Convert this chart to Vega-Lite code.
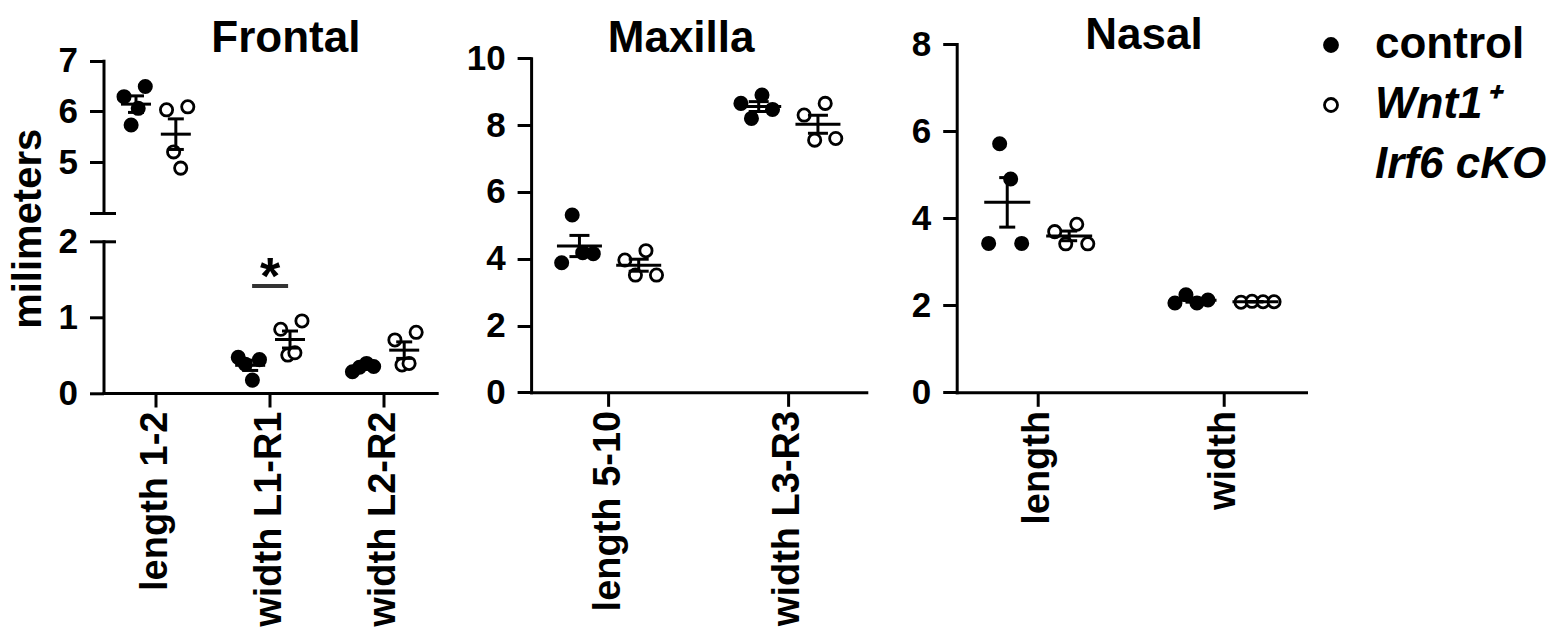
{
  "$schema": "https://vega.github.io/schema/vega-lite/v6.json",
  "padding": {"left": 8.5, "top": 14, "right": 5, "bottom": 5},
  "datasets": {
    "pts": [
      {"panel": "Frontal", "measure": "length 1-2", "group": "control", "id": "C1", "value": 6.29},
      {"panel": "Frontal", "measure": "length 1-2", "group": "control", "id": "C2", "value": 5.73},
      {"panel": "Frontal", "measure": "length 1-2", "group": "control", "id": "C3", "value": 6.06},
      {"panel": "Frontal", "measure": "length 1-2", "group": "control", "id": "C4", "value": 6.49},
      {"panel": "Frontal", "measure": "length 1-2", "group": "Wnt1+ Irf6 cKO", "id": "K1", "value": 6.03},
      {"panel": "Frontal", "measure": "length 1-2", "group": "Wnt1+ Irf6 cKO", "id": "K2", "value": 5.2},
      {"panel": "Frontal", "measure": "length 1-2", "group": "Wnt1+ Irf6 cKO", "id": "K3", "value": 4.88},
      {"panel": "Frontal", "measure": "length 1-2", "group": "Wnt1+ Irf6 cKO", "id": "K4", "value": 6.09},
      {"panel": "Frontal", "measure": "width L1-R1", "group": "control", "id": "C1", "value": 0.47},
      {"panel": "Frontal", "measure": "width L1-R1", "group": "control", "id": "C2", "value": 0.38},
      {"panel": "Frontal", "measure": "width L1-R1", "group": "control", "id": "C3", "value": 0.17},
      {"panel": "Frontal", "measure": "width L1-R1", "group": "control", "id": "C4", "value": 0.44},
      {"panel": "Frontal", "measure": "width L1-R1", "group": "Wnt1+ Irf6 cKO", "id": "K1", "value": 0.84},
      {"panel": "Frontal", "measure": "width L1-R1", "group": "Wnt1+ Irf6 cKO", "id": "K2", "value": 0.5},
      {"panel": "Frontal", "measure": "width L1-R1", "group": "Wnt1+ Irf6 cKO", "id": "K3", "value": 0.53},
      {"panel": "Frontal", "measure": "width L1-R1", "group": "Wnt1+ Irf6 cKO", "id": "K4", "value": 0.95},
      {"panel": "Frontal", "measure": "width L2-R2", "group": "control", "id": "C1", "value": 0.28},
      {"panel": "Frontal", "measure": "width L2-R2", "group": "control", "id": "C2", "value": 0.34},
      {"panel": "Frontal", "measure": "width L2-R2", "group": "control", "id": "C3", "value": 0.39},
      {"panel": "Frontal", "measure": "width L2-R2", "group": "control", "id": "C4", "value": 0.35},
      {"panel": "Frontal", "measure": "width L2-R2", "group": "Wnt1+ Irf6 cKO", "id": "K1", "value": 0.7},
      {"panel": "Frontal", "measure": "width L2-R2", "group": "Wnt1+ Irf6 cKO", "id": "K2", "value": 0.37},
      {"panel": "Frontal", "measure": "width L2-R2", "group": "Wnt1+ Irf6 cKO", "id": "K3", "value": 0.39},
      {"panel": "Frontal", "measure": "width L2-R2", "group": "Wnt1+ Irf6 cKO", "id": "K4", "value": 0.8},
      {"panel": "Maxilla", "measure": "length 5-10", "group": "control", "id": "C1", "value": 3.88},
      {"panel": "Maxilla", "measure": "length 5-10", "group": "control", "id": "C2", "value": 5.31},
      {"panel": "Maxilla", "measure": "length 5-10", "group": "control", "id": "C3", "value": 4.18},
      {"panel": "Maxilla", "measure": "length 5-10", "group": "control", "id": "C4", "value": 4.15},
      {"panel": "Maxilla", "measure": "length 5-10", "group": "Wnt1+ Irf6 cKO", "id": "K1", "value": 3.96},
      {"panel": "Maxilla", "measure": "length 5-10", "group": "Wnt1+ Irf6 cKO", "id": "K2", "value": 3.51},
      {"panel": "Maxilla", "measure": "length 5-10", "group": "Wnt1+ Irf6 cKO", "id": "K3", "value": 4.24},
      {"panel": "Maxilla", "measure": "length 5-10", "group": "Wnt1+ Irf6 cKO", "id": "K4", "value": 3.51},
      {"panel": "Maxilla", "measure": "width L3-R3", "group": "control", "id": "C1", "value": 8.65},
      {"panel": "Maxilla", "measure": "width L3-R3", "group": "control", "id": "C2", "value": 8.2},
      {"panel": "Maxilla", "measure": "width L3-R3", "group": "control", "id": "C3", "value": 8.9},
      {"panel": "Maxilla", "measure": "width L3-R3", "group": "control", "id": "C4", "value": 8.47},
      {"panel": "Maxilla", "measure": "width L3-R3", "group": "Wnt1+ Irf6 cKO", "id": "K1", "value": 8.3},
      {"panel": "Maxilla", "measure": "width L3-R3", "group": "Wnt1+ Irf6 cKO", "id": "K2", "value": 7.55},
      {"panel": "Maxilla", "measure": "width L3-R3", "group": "Wnt1+ Irf6 cKO", "id": "K3", "value": 8.65},
      {"panel": "Maxilla", "measure": "width L3-R3", "group": "Wnt1+ Irf6 cKO", "id": "K4", "value": 7.6},
      {"panel": "Nasal", "measure": "length", "group": "control", "id": "C1", "value": 3.42},
      {"panel": "Nasal", "measure": "length", "group": "control", "id": "C2", "value": 5.71},
      {"panel": "Nasal", "measure": "length", "group": "control", "id": "C3", "value": 4.9},
      {"panel": "Nasal", "measure": "length", "group": "control", "id": "C4", "value": 3.42},
      {"panel": "Nasal", "measure": "length", "group": "Wnt1+ Irf6 cKO", "id": "K1", "value": 3.69},
      {"panel": "Nasal", "measure": "length", "group": "Wnt1+ Irf6 cKO", "id": "K2", "value": 3.41},
      {"panel": "Nasal", "measure": "length", "group": "Wnt1+ Irf6 cKO", "id": "K3", "value": 3.86},
      {"panel": "Nasal", "measure": "length", "group": "Wnt1+ Irf6 cKO", "id": "K4", "value": 3.41},
      {"panel": "Nasal", "measure": "width", "group": "control", "id": "C1", "value": 2.05},
      {"panel": "Nasal", "measure": "width", "group": "control", "id": "C2", "value": 2.24},
      {"panel": "Nasal", "measure": "width", "group": "control", "id": "C3", "value": 2.05},
      {"panel": "Nasal", "measure": "width", "group": "control", "id": "C4", "value": 2.12},
      {"panel": "Nasal", "measure": "width", "group": "Wnt1+ Irf6 cKO", "id": "K1", "value": 2.07},
      {"panel": "Nasal", "measure": "width", "group": "Wnt1+ Irf6 cKO", "id": "K2", "value": 2.09},
      {"panel": "Nasal", "measure": "width", "group": "Wnt1+ Irf6 cKO", "id": "K3", "value": 2.08},
      {"panel": "Nasal", "measure": "width", "group": "Wnt1+ Irf6 cKO", "id": "K4", "value": 2.08}
    ],
    "sig": [
      {"measure": "width L1-R1", "level": 1.41, "label": "*"}
    ]
  },
  "hconcat": [
    {
      "spacing": 28.3,
      "bounds": "flush",
      "vconcat": [
        {
          "title": {"text": "Frontal", "dx": 15.7, "offset": -17.6},
          "width": 333.2,
          "height": 168.7,
          "resolve": {"scale": {"xOffset": "independent"}, "axis": {"y": "independent"}},
          "layer": [
            {
              "data": {"name": "pts"},
              "transform": [{"filter": "datum.panel === 'Frontal' && datum.measure === 'length 1-2'"}],
              "mark": {"type": "circle", "size": 150, "strokeWidth": 2.8, "opacity": 1},
              "encoding": {
                "x": {"field": "measure", "type": "nominal", "scale": {"domain": ["length 1-2", "width L1-R1", "width L2-R2"], "paddingInner": 0.082, "paddingOuter": 0}, "axis": null},
                "xOffset": {"field": "id", "type": "nominal", "scale": {"domain": ["a1", "a2", "C1", "C2", "C3", "C4", "g1", "g2", "K1", "K2", "K3", "K4", "b1", "b2"], "paddingInner": 0, "paddingOuter": 0.9}},
                "y": {"field": "value", "type": "quantitative", "scale": {"domain": [4, 7], "range": [168.7, 16.7], "nice": false, "zero": false}, "axis": {"values": [4, 5, 6, 7], "labelExpr": "datum.value == 4 ? '' : datum.label", "title": null, "labelFontSize": 35, "labelPadding": 12, "tickSize": 14}},
                "fill": {"field": "group", "type": "nominal", "scale": {"domain": ["control", "Wnt1+ Irf6 cKO", "line2"], "range": ["black", "white", "rgba(0,0,0,0)"]}, "legend": {"title": null, "orient": "none", "legendX": 1205.5, "legendY": -21, "values": ["control", "Wnt1+ Irf6 cKO", "line2"], "labelExpr": "datum.value == 'control' ? 'control' : datum.value == 'line2' ? 'Irf6 cKO' : 'Wnt1⁺'", "labelFontStyle": {"expr": "datum.value == 'control' ? 'normal' : 'italic'"}}},
                "stroke": {"field": "group", "type": "nominal", "scale": {"domain": ["control", "Wnt1+ Irf6 cKO", "line2"], "range": ["black", "black", "rgba(0,0,0,0)"]}, "legend": {"title": null, "orient": "none", "legendX": 1205.5, "legendY": -21, "values": ["control", "Wnt1+ Irf6 cKO", "line2"], "labelExpr": "datum.value == 'control' ? 'control' : datum.value == 'line2' ? 'Irf6 cKO' : 'Wnt1⁺'", "labelFontStyle": {"expr": "datum.value == 'control' ? 'normal' : 'italic'"}}}
              }
            },
            {
              "data": {"name": "pts"},
              "transform": [{"filter": "datum.panel === 'Frontal' && datum.measure === 'length 1-2'"}],
              "mark": {"type": "errorbar", "extent": "stderr", "color": "black", "thickness": 3, "ticks": {"size": 16, "thickness": 3, "color": "black", "opacity": 1}, "rule": {"strokeWidth": 3, "color": "black"}},
              "encoding": {
                "x": {"field": "measure", "type": "nominal", "axis": null},
                "xOffset": {"field": "group", "type": "nominal", "scale": {"domain": ["control", "Wnt1+ Irf6 cKO"], "paddingInner": 0, "paddingOuter": 0.316}},
                "y": {"field": "value", "type": "quantitative", "axis": null}
              }
            },
            {
              "data": {"name": "pts"},
              "transform": [{"filter": "datum.panel === 'Frontal' && datum.measure === 'length 1-2'"}],
              "mark": {"type": "tick", "size": 30, "thickness": 3, "color": "black", "opacity": 1},
              "encoding": {
                "x": {"field": "measure", "type": "nominal", "axis": null},
                "xOffset": {"field": "group", "type": "nominal", "scale": {"domain": ["control", "Wnt1+ Irf6 cKO"], "paddingInner": 0, "paddingOuter": 0.316}},
                "y": {"aggregate": "mean", "field": "value", "type": "quantitative", "axis": {"orient": "left", "values": [4], "tickSize": 12, "offset": -12, "labels": false, "domain": false, "title": null}}
              }
            }
          ]
        },
        {
          "width": 333.2,
          "height": 151.7,
          "resolve": {"scale": {"xOffset": "independent"}, "axis": {"y": "independent"}},
          "layer": [
            {
              "data": {"name": "pts"},
              "transform": [{"filter": "datum.panel === 'Frontal' && datum.measure !== 'length 1-2'"}],
              "mark": {"type": "circle", "size": 150, "strokeWidth": 2.8, "opacity": 1},
              "encoding": {
                "x": {"field": "measure", "type": "nominal", "scale": {"domain": ["length 1-2", "width L1-R1", "width L2-R2"], "paddingInner": 0.082, "paddingOuter": 0}, "axis": {"title": null, "labelAngle": 270, "labelFontSize": 38, "labelPadding": 4, "labelLimit": 400, "tickSize": 14}},
                "xOffset": {"field": "id", "type": "nominal", "scale": {"domain": ["a1", "a2", "C1", "C2", "C3", "C4", "g1", "g2", "K1", "K2", "K3", "K4", "b1", "b2"], "paddingInner": 0, "paddingOuter": 0.9}},
                "y": {"field": "value", "type": "quantitative", "scale": {"domain": [0, 2], "nice": false}, "axis": {"values": [0, 1, 2], "labelExpr": "'' + datum.value", "labelFontSize": 35, "labelPadding": 12, "tickSize": 14, "title": "milimeters", "titleX": -74.8, "titleY": -13, "titleAngle": 270, "titleAlign": "center", "titleBaseline": "middle", "titleFontSize": 40}},
                "fill": {"field": "group", "type": "nominal", "scale": {"domain": ["control", "Wnt1+ Irf6 cKO", "line2"], "range": ["black", "white", "rgba(0,0,0,0)"]}, "legend": {"title": null, "orient": "none", "legendX": 1205.5, "legendY": -21, "values": ["control", "Wnt1+ Irf6 cKO", "line2"], "labelExpr": "datum.value == 'control' ? 'control' : datum.value == 'line2' ? 'Irf6 cKO' : 'Wnt1⁺'", "labelFontStyle": {"expr": "datum.value == 'control' ? 'normal' : 'italic'"}}},
                "stroke": {"field": "group", "type": "nominal", "scale": {"domain": ["control", "Wnt1+ Irf6 cKO", "line2"], "range": ["black", "black", "rgba(0,0,0,0)"]}, "legend": {"title": null, "orient": "none", "legendX": 1205.5, "legendY": -21, "values": ["control", "Wnt1+ Irf6 cKO", "line2"], "labelExpr": "datum.value == 'control' ? 'control' : datum.value == 'line2' ? 'Irf6 cKO' : 'Wnt1⁺'", "labelFontStyle": {"expr": "datum.value == 'control' ? 'normal' : 'italic'"}}}
              }
            },
            {
              "data": {"name": "pts"},
              "transform": [{"filter": "datum.panel === 'Frontal' && datum.measure !== 'length 1-2'"}],
              "mark": {"type": "errorbar", "extent": "stderr", "color": "black", "thickness": 3, "ticks": {"size": 16, "thickness": 3, "color": "black", "opacity": 1}, "rule": {"strokeWidth": 3, "color": "black"}},
              "encoding": {
                "x": {"field": "measure", "type": "nominal", "axis": {"title": null, "labelAngle": 270, "labelFontSize": 38, "labelPadding": 4, "labelLimit": 400, "tickSize": 14}},
                "xOffset": {"field": "group", "type": "nominal", "scale": {"domain": ["control", "Wnt1+ Irf6 cKO"], "paddingInner": 0, "paddingOuter": 0.316}},
                "y": {"field": "value", "type": "quantitative", "axis": null}
              }
            },
            {
              "data": {"name": "pts"},
              "transform": [{"filter": "datum.panel === 'Frontal' && datum.measure !== 'length 1-2'"}],
              "mark": {"type": "tick", "size": 30, "thickness": 3, "color": "black", "opacity": 1},
              "encoding": {
                "x": {"field": "measure", "type": "nominal", "axis": {"title": null, "labelAngle": 270, "labelFontSize": 38, "labelPadding": 4, "labelLimit": 400, "tickSize": 14}},
                "xOffset": {"field": "group", "type": "nominal", "scale": {"domain": ["control", "Wnt1+ Irf6 cKO"], "paddingInner": 0, "paddingOuter": 0.316}},
                "y": {"aggregate": "mean", "field": "value", "type": "quantitative", "axis": {"orient": "left", "values": [2], "tickSize": 12, "offset": -12, "labels": false, "domain": false, "title": null}}
              }
            },
            {
              "data": {"name": "sig"},
              "mark": {"type": "tick", "size": 36, "thickness": 4, "color": "#333333", "opacity": 1},
              "encoding": {
                "x": {"field": "measure", "type": "nominal", "axis": {"title": null, "labelAngle": 270, "labelFontSize": 38, "labelPadding": 4, "labelLimit": 400, "tickSize": 14}},
                "y": {"field": "level", "type": "quantitative", "axis": null}
              }
            },
            {
              "data": {"name": "sig"},
              "mark": {"type": "text", "fontSize": 52, "fontWeight": "bold", "baseline": "alphabetic", "dy": 8, "color": "black"},
              "encoding": {
                "x": {"field": "measure", "type": "nominal", "axis": {"title": null, "labelAngle": 270, "labelFontSize": 38, "labelPadding": 4, "labelLimit": 400, "tickSize": 14}},
                "y": {"field": "level", "type": "quantitative", "axis": null},
                "text": {"field": "label"}
              }
            }
          ]
        }
      ]
    },
    {
      "title": {"text": "Maxilla", "dx": -25, "offset": -20},
      "width": 350.1,
      "height": 348.3,
      "resolve": {"scale": {"xOffset": "independent"}},
      "layer": [
        {
          "data": {"name": "pts"},
          "transform": [{"filter": "datum.panel === 'Maxilla'"}],
          "mark": {"type": "circle", "size": 150, "strokeWidth": 2.8, "opacity": 1},
          "encoding": {
            "x": {"field": "measure", "type": "nominal", "scale": {"domain": ["length 5-10", "width L3-R3"], "range": [0, 335.2], "paddingInner": 0.13, "paddingOuter": 0}, "axis": {"title": null, "labelAngle": 270, "labelFontSize": 38, "labelPadding": 4, "labelLimit": 400, "tickSize": 14}},
            "xOffset": {"field": "id", "type": "nominal", "scale": {"domain": ["a1", "a2", "C1", "C2", "C3", "C4", "g1", "g2", "K1", "K2", "K3", "K4", "b1", "b2"], "paddingInner": 0, "paddingOuter": 0.9}},
            "y": {"field": "value", "type": "quantitative", "scale": {"domain": [0, 10], "range": [348.3, 14.3], "nice": false}, "axis": {"values": [0, 2, 4, 6, 8, 10], "title": null, "labelFontSize": 35, "labelPadding": 12, "tickSize": 14}},
            "fill": {"field": "group", "type": "nominal", "scale": {"domain": ["control", "Wnt1+ Irf6 cKO", "line2"], "range": ["black", "white", "rgba(0,0,0,0)"]}, "legend": {"title": null, "orient": "none", "legendX": 1205.5, "legendY": -21, "values": ["control", "Wnt1+ Irf6 cKO", "line2"], "labelExpr": "datum.value == 'control' ? 'control' : datum.value == 'line2' ? 'Irf6 cKO' : 'Wnt1⁺'", "labelFontStyle": {"expr": "datum.value == 'control' ? 'normal' : 'italic'"}}},
            "stroke": {"field": "group", "type": "nominal", "scale": {"domain": ["control", "Wnt1+ Irf6 cKO", "line2"], "range": ["black", "black", "rgba(0,0,0,0)"]}, "legend": {"title": null, "orient": "none", "legendX": 1205.5, "legendY": -21, "values": ["control", "Wnt1+ Irf6 cKO", "line2"], "labelExpr": "datum.value == 'control' ? 'control' : datum.value == 'line2' ? 'Irf6 cKO' : 'Wnt1⁺'", "labelFontStyle": {"expr": "datum.value == 'control' ? 'normal' : 'italic'"}}}
          }
        },
        {
          "data": {"name": "pts"},
          "transform": [{"filter": "datum.panel === 'Maxilla'"}],
          "mark": {"type": "errorbar", "extent": "stderr", "color": "black", "thickness": 3, "ticks": {"size": 20, "thickness": 3, "color": "black", "opacity": 1}, "rule": {"strokeWidth": 3, "color": "black"}},
          "encoding": {
            "x": {"field": "measure", "type": "nominal", "axis": {"title": null, "labelAngle": 270, "labelFontSize": 38, "labelPadding": 4, "labelLimit": 400, "tickSize": 14}},
            "xOffset": {"field": "group", "type": "nominal", "scale": {"domain": ["control", "Wnt1+ Irf6 cKO"], "paddingInner": 0, "paddingOuter": 0.316}},
            "y": {"field": "value", "type": "quantitative", "axis": {"values": [0, 2, 4, 6, 8, 10], "title": null, "labelFontSize": 35, "labelPadding": 12, "tickSize": 14}}
          }
        },
        {
          "data": {"name": "pts"},
          "transform": [{"filter": "datum.panel === 'Maxilla'"}],
          "mark": {"type": "tick", "size": 45, "thickness": 3, "color": "black", "opacity": 1},
          "encoding": {
            "x": {"field": "measure", "type": "nominal", "axis": {"title": null, "labelAngle": 270, "labelFontSize": 38, "labelPadding": 4, "labelLimit": 400, "tickSize": 14}},
            "xOffset": {"field": "group", "type": "nominal", "scale": {"domain": ["control", "Wnt1+ Irf6 cKO"], "paddingInner": 0, "paddingOuter": 0.316}},
            "y": {"aggregate": "mean", "field": "value", "type": "quantitative", "axis": {"values": [0, 2, 4, 6, 8, 10], "title": null, "labelFontSize": 35, "labelPadding": 12, "tickSize": 14}}
          }
        }
      ]
    },
    {
      "title": {"text": "Nasal", "dx": 12.6, "offset": -31},
      "width": 349.3,
      "height": 348.3,
      "resolve": {"scale": {"xOffset": "independent"}},
      "layer": [
        {
          "data": {"name": "pts"},
          "transform": [{"filter": "datum.panel === 'Nasal'"}],
          "mark": {"type": "circle", "size": 150, "strokeWidth": 2.8, "opacity": 1},
          "encoding": {
            "x": {"field": "measure", "type": "nominal", "scale": {"domain": ["length", "width"], "paddingInner": 0.125, "paddingOuter": 0}, "axis": {"title": null, "labelAngle": 270, "labelFontSize": 38, "labelPadding": 4, "labelLimit": 400, "tickSize": 14}},
            "xOffset": {"field": "id", "type": "nominal", "scale": {"domain": ["a1", "a2", "C1", "C2", "C3", "C4", "g1", "g2", "K1", "K2", "K3", "K4", "b1", "b2"], "paddingInner": 0, "paddingOuter": 0.9}},
            "y": {"field": "value", "type": "quantitative", "scale": {"domain": [0, 8], "nice": false}, "axis": {"values": [0, 2, 4, 6, 8], "title": null, "labelFontSize": 35, "labelPadding": 12, "tickSize": 14}},
            "fill": {"field": "group", "type": "nominal", "scale": {"domain": ["control", "Wnt1+ Irf6 cKO", "line2"], "range": ["black", "white", "rgba(0,0,0,0)"]}, "legend": {"title": null, "orient": "none", "legendX": 1205.5, "legendY": -21, "values": ["control", "Wnt1+ Irf6 cKO", "line2"], "labelExpr": "datum.value == 'control' ? 'control' : datum.value == 'line2' ? 'Irf6 cKO' : 'Wnt1⁺'", "labelFontStyle": {"expr": "datum.value == 'control' ? 'normal' : 'italic'"}}},
            "stroke": {"field": "group", "type": "nominal", "scale": {"domain": ["control", "Wnt1+ Irf6 cKO", "line2"], "range": ["black", "black", "rgba(0,0,0,0)"]}, "legend": {"title": null, "orient": "none", "legendX": 1205.5, "legendY": -21, "values": ["control", "Wnt1+ Irf6 cKO", "line2"], "labelExpr": "datum.value == 'control' ? 'control' : datum.value == 'line2' ? 'Irf6 cKO' : 'Wnt1⁺'", "labelFontStyle": {"expr": "datum.value == 'control' ? 'normal' : 'italic'"}}}
          }
        },
        {
          "data": {"name": "pts"},
          "transform": [{"filter": "datum.panel === 'Nasal'"}],
          "mark": {"type": "errorbar", "extent": "stderr", "color": "black", "thickness": 3, "ticks": {"size": 16, "thickness": 3, "color": "black", "opacity": 1}, "rule": {"strokeWidth": 3, "color": "black"}},
          "encoding": {
            "x": {"field": "measure", "type": "nominal", "axis": {"title": null, "labelAngle": 270, "labelFontSize": 38, "labelPadding": 4, "labelLimit": 400, "tickSize": 14}},
            "xOffset": {"field": "group", "type": "nominal", "scale": {"domain": ["control", "Wnt1+ Irf6 cKO"], "paddingInner": 0, "paddingOuter": 0.316}},
            "y": {"field": "value", "type": "quantitative", "axis": {"values": [0, 2, 4, 6, 8], "title": null, "labelFontSize": 35, "labelPadding": 12, "tickSize": 14}}
          }
        },
        {
          "data": {"name": "pts"},
          "transform": [{"filter": "datum.panel === 'Nasal'"}],
          "mark": {"type": "tick", "size": 46, "thickness": 3, "color": "black", "opacity": 1},
          "encoding": {
            "x": {"field": "measure", "type": "nominal", "axis": {"title": null, "labelAngle": 270, "labelFontSize": 38, "labelPadding": 4, "labelLimit": 400, "tickSize": 14}},
            "xOffset": {"field": "group", "type": "nominal", "scale": {"domain": ["control", "Wnt1+ Irf6 cKO"], "paddingInner": 0, "paddingOuter": 0.316}},
            "y": {"aggregate": "mean", "field": "value", "type": "quantitative", "axis": {"values": [0, 2, 4, 6, 8], "title": null, "labelFontSize": 35, "labelPadding": 12, "tickSize": 14}}
          }
        }
      ]
    }
  ],
  "spacing": 28.6,
  "config": {
    "font": "Liberation Sans",
    "view": {"stroke": null},
    "axis": {"grid": false, "domainColor": "black", "domainWidth": 3, "domainCap": "square", "tickColor": "black", "tickWidth": 3, "labelColor": "black", "labelFont": "Liberation Sans", "labelFontWeight": "bold", "titleColor": "black", "titleFont": "Liberation Sans", "titleFontWeight": "bold", "labelFlush": false, "labelOverlap": false},
    "title": {"fontSize": 44, "fontWeight": "bold", "color": "black", "frame": "group", "font": "Liberation Sans"},
    "legend": {"symbolType": "circle", "symbolSize": 170, "symbolStrokeWidth": 2.8, "labelFontSize": 44, "labelFontWeight": "bold", "labelColor": "black", "labelFont": "Liberation Sans", "labelOffset": 22, "labelLimit": 400, "rowPadding": 16}
  }
}
